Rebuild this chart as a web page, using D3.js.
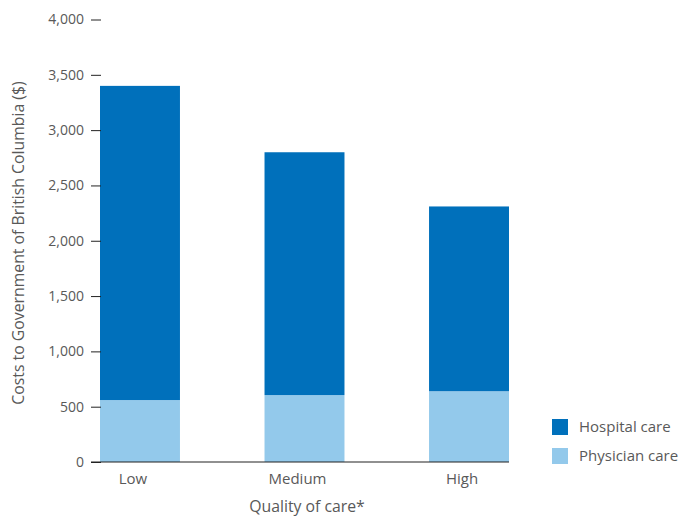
<!DOCTYPE html>
<html>
<head>
<meta charset="utf-8">
<script src="https://cdn.jsdelivr.net/npm/d3@7"></script>
<style>
  html, body { margin: 0; padding: 0; background: #fff; }
  svg text { font-family: "Open Sans", "Noto Sans", sans-serif; fill: #595959; }
</style>
</head>
<body>
<svg id="chart" width="685" height="518"></svg>
<script>
// Quality-of-care groups and their cost components (dollars)
const categories = ["Low", "Medium", "High"];
const physicianCare = [560, 605, 640];
const hospitalCare = [2840, 2195, 1670];
const seriesNames = ["Hospital care", "Physician care"];
const seriesColors = ["#0070bb", "#93c9eb"];
const yTicks = [0, 500, 1000, 1500, 2000, 2500, 3000, 3500, 4000];

const svg = d3.select("#chart");

const x = d3.scaleBand()
  .domain(categories)
  .range([100, 509])
  .paddingInner(0.514)
  .paddingOuter(0);

const y = d3.scaleLinear()
  .domain([0, 4000])
  .range([462, 19.5]);

// stacked layers: physician care at the bottom, hospital care on top
const rows = categories.map((c, i) => ({
  category: c,
  physician: physicianCare[i],
  hospital: hospitalCare[i]
}));
const stack = d3.stack().keys(["physician", "hospital"]);
const layers = stack(rows);
const layerColor = { physician: seriesColors[1], hospital: seriesColors[0] };

svg.append("g")
  .selectAll("g")
  .data(layers)
  .join("g")
  .attr("fill", d => layerColor[d.key])
  .selectAll("rect")
  .data(d => d)
  .join("rect")
  .attr("x", d => x(d.data.category))
  .attr("width", x.bandwidth())
  .attr("y", d => y(d[1]))
  .attr("height", d => y(d[0]) - y(d[1]));

// y axis: ticks only, no spine
const yAxis = svg.append("g")
  .attr("transform", "translate(101,0)")
  .call(d3.axisLeft(y)
    .tickValues(yTicks)
    .tickSize(10)
    .tickPadding(7)
    .tickFormat(d3.format(",")));
yAxis.select(".domain").remove();
yAxis.selectAll(".tick line").attr("stroke", "#222");
yAxis.selectAll(".tick text")
  .style("font-size", "14px")
  .style("font-family", "\"Open Sans\", \"Noto Sans\", sans-serif")
  .attr("fill", "#595959");

// baseline
svg.append("line")
  .attr("x1", 91).attr("x2", 509)
  .attr("y1", y(0)).attr("y2", y(0))
  .attr("stroke", "#222").attr("stroke-width", 1.2);

// category labels
svg.append("g")
  .selectAll("text")
  .data(categories)
  .join("text")
  .attr("x", d => x(d) + x.bandwidth() / 2 - 7)
  .attr("y", 484)
  .attr("text-anchor", "middle")
  .style("font-size", "15px")
  .text(d => d);

// axis titles
svg.append("text")
  .attr("x", 307)
  .attr("y", 512)
  .attr("text-anchor", "middle")
  .style("font-size", "15.8px")
  .text("Quality of care*");

svg.append("text")
  .attr("transform", "translate(24,243) rotate(-90)")
  .attr("text-anchor", "middle")
  .style("font-size", "15.8px")
  .text("Costs to Government of British Columbia ($)");

// legend
const legend = svg.append("g")
  .selectAll("g")
  .data(seriesNames)
  .join("g")
  .attr("transform", (d, i) => `translate(552,${419 + i * 29})`);
legend.append("rect")
  .attr("width", 16).attr("height", 16)
  .attr("fill", (d, i) => seriesColors[i]);
legend.append("text")
  .attr("x", 27).attr("y", 13)
  .style("font-size", "15px")
  .text(d => d);
</script>
</body>
</html>
